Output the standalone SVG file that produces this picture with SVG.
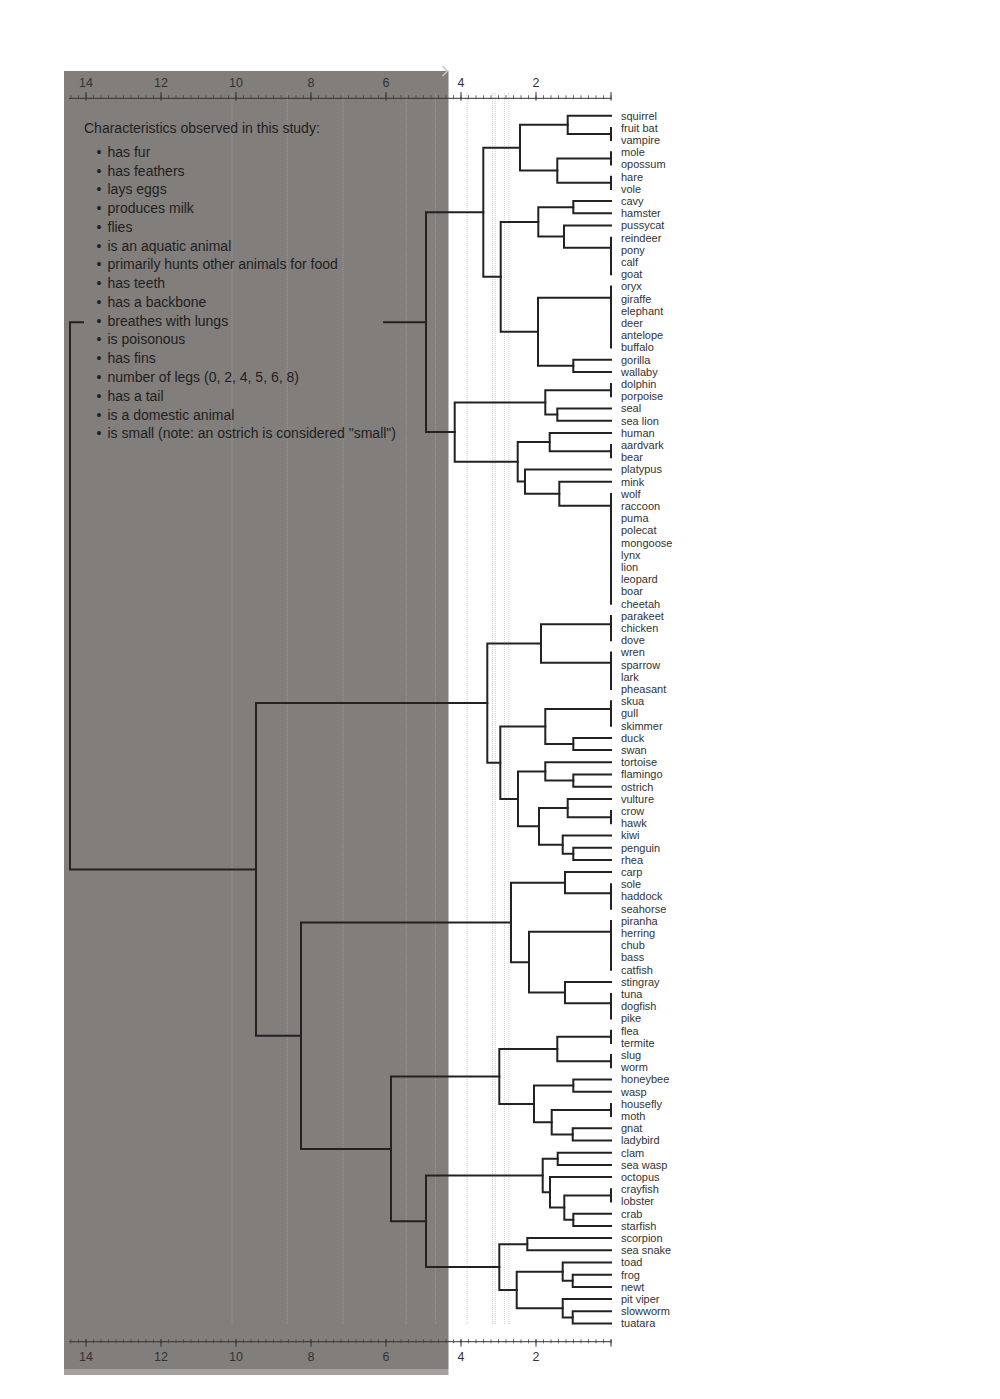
<svg xmlns="http://www.w3.org/2000/svg" width="1000" height="1399" viewBox="0 0 1000 1399">
<style>
.bg{fill:#ffffff}
.shade{fill:#827e7c}
.shade-edge{fill:#a3a09e}
.grid{stroke:#cdcdcd;stroke-width:1;stroke-dasharray:1 1;fill:none}
.grid-in{stroke:#9d9997;stroke-width:1;stroke-dasharray:1 1;fill:none}
.axis{stroke:#333333;stroke-width:1;fill:none}
.minor{stroke:#444444;stroke-width:4;stroke-dasharray:0.8 6.7;fill:none}
.axlab{font-family:"Liberation Sans",Arial,sans-serif;font-size:12.5px;fill:#333333;text-anchor:middle}
.edge{stroke:#222222;stroke-width:2;fill:none;stroke-linecap:square}
.leaf text{font-family:"Liberation Sans",Arial,sans-serif;font-size:11px;fill:#333333}
.legend{font-family:"Liberation Sans",Arial,sans-serif;font-size:14px;fill:#1e1e1e}
</style>
<rect class="bg" x="0" y="0" width="1000" height="1399"/>
<rect class="shade" x="64" y="71" width="384.5" height="1298"/>
<rect class="shade-edge" x="64" y="1369" width="384.5" height="6"/>
<polyline points="442.5,66 447.5,71 442.5,76" fill="none" stroke="#c8c8c8" stroke-width="1.5"/>

<g id="gridlines">
<path class="grid-in" d="M232 93V1325M287.3 93V1325M343 93V1325M406.2 93V1325M435.6 93V1325"/>
<path class="grid" d="M467 93V1325M492.6 93V1325M495.2 93V1325M504.4 93V1325M508.8 93V1325"/>
</g>

<g id="axis-top">
<line class="axis" x1="69" y1="98.3" x2="611.5" y2="98.3"/>
<line class="minor" x1="70.6" y1="97.3" x2="611.5" y2="97.3"/>
<path class="axis" d="M86 92V100.7M161 92V100.7M236 92V100.7M311 92V100.7M386 92V100.7M461 92V100.7M536 92V100.7M611 92V100.7"/>
<text class="axlab" x="86" y="87">14</text>
<text class="axlab" x="161" y="87">12</text>
<text class="axlab" x="236" y="87">10</text>
<text class="axlab" x="311" y="87">8</text>
<text class="axlab" x="386" y="87">6</text>
<text class="axlab" x="461" y="87">4</text>
<text class="axlab" x="536" y="87">2</text>
</g>

<g id="axis-bottom">
<line class="axis" x1="69" y1="1341.7" x2="611.5" y2="1341.7"/>
<line class="minor" x1="70.6" y1="1341.3" x2="611.5" y2="1341.3"/>
<path class="axis" d="M86 1339.3V1346.7M161 1339.3V1346.7M236 1339.3V1346.7M311 1339.3V1346.7M386 1339.3V1346.7M461 1339.3V1346.7M536 1339.3V1346.7M611 1339.3V1346.7"/>
<text class="axlab" x="86" y="1360.5">14</text>
<text class="axlab" x="161" y="1360.5">12</text>
<text class="axlab" x="236" y="1360.5">10</text>
<text class="axlab" x="311" y="1360.5">8</text>
<text class="axlab" x="386" y="1360.5">6</text>
<text class="axlab" x="461" y="1360.5">4</text>
<text class="axlab" x="536" y="1360.5">2</text>
</g>

<g id="connectors">
<path class="edge" d="M611 115.7H567.7V134H611"/>
<path class="edge" d="M611 127.9V140.1M611 152.3V164.5M611 176.7V188.9"/>
<path class="edge" d="M611 158.4H557.3V182.8H611"/>
<path class="edge" d="M567.7 124.85H520V170.6H557.3"/>
<path class="edge" d="M611 201.1H573.3V213.3H611"/>
<path class="edge" d="M611 237.7V274.3"/>
<path class="edge" d="M611 225.5H564V247.7H611"/>
<path class="edge" d="M573.3 207.2H538.3V236.6H564"/>
<path class="edge" d="M611 286.5V347.5"/>
<path class="edge" d="M611 359.7H573.3V371.9H611"/>
<path class="edge" d="M611 297.7H538V365.8H573.3"/>
<path class="edge" d="M538.3 221.9H500.7V331.75H538"/>
<path class="edge" d="M520 147.7H483.3V276.8H500.7"/>
<path class="edge" d="M611 384.1V396.3"/>
<path class="edge" d="M611 408.5H557.3V420.7H611"/>
<path class="edge" d="M611 390.2H545.3V414.6H557.3"/>
<path class="edge" d="M611 445.1V457.3"/>
<path class="edge" d="M611 432.9H549.7V451.2H611"/>
<path class="edge" d="M611 493.9V603.7"/>
<path class="edge" d="M611 481.7H559.3V505.7H611"/>
<path class="edge" d="M611 469.5H525V493.7H559.3"/>
<path class="edge" d="M549.7 442.05H517.7V481.6H525"/>
<path class="edge" d="M545.3 402.4H454.7V461.8H517.7"/>
<path class="edge" d="M483.3 212.25H426V432.1H454.7"/>
<path class="edge" d="M611 615.9V640.3M611 652.5V689.1"/>
<path class="edge" d="M611 624.3H541V662.7H611"/>
<path class="edge" d="M611 701.3V725.7"/>
<path class="edge" d="M611 737.9H573.3V750.1H611"/>
<path class="edge" d="M611 709H545.3V744H573.3"/>
<path class="edge" d="M611 774.5H573.3V786.7H611"/>
<path class="edge" d="M611 762.3H545.3V780.6H573.3"/>
<path class="edge" d="M611 811.1V823.3"/>
<path class="edge" d="M611 798.9H567.7V817.2H611"/>
<path class="edge" d="M611 847.7H573.3V859.9H611"/>
<path class="edge" d="M611 835.5H562.7V853.8H573.3"/>
<path class="edge" d="M567.7 808.05H539V844.65H562.7"/>
<path class="edge" d="M545.3 771.45H518V826.35H539"/>
<path class="edge" d="M545.3 726.5H500.3V798.9H518"/>
<path class="edge" d="M541 643.5H487.3V762.7H500.3"/>
<path class="edge" d="M611 884.3V908.7"/>
<path class="edge" d="M611 872.1H565V893.3H611"/>
<path class="edge" d="M611 920.9V969.7M611 994.1V1018.5"/>
<path class="edge" d="M611 981.9H565V1003.3H611"/>
<path class="edge" d="M611 931.7H529V992.6H565"/>
<path class="edge" d="M565 882.7H511V962.15H529"/>
<path class="edge" d="M611 1030.7V1042.9M611 1055.1V1067.3"/>
<path class="edge" d="M611 1036.8H557.3V1061.2H611"/>
<path class="edge" d="M611 1079.5H573.3V1091.7H611"/>
<path class="edge" d="M611 1103.9V1116.1"/>
<path class="edge" d="M611 1128.3H572.7V1140.5H611"/>
<path class="edge" d="M611 1110H551.7V1134.4H572.7"/>
<path class="edge" d="M573.3 1085.6H534V1122.2H551.7"/>
<path class="edge" d="M557.3 1049H499.3V1103.9H534"/>
<path class="edge" d="M611 1152.7H557.7V1164.9H611"/>
<path class="edge" d="M611 1189.3V1201.5"/>
<path class="edge" d="M611 1213.7H573.3V1225.9H611"/>
<path class="edge" d="M611 1195.4H564.3V1219.8H573.3"/>
<path class="edge" d="M611 1177.1H550V1207.6H564.3"/>
<path class="edge" d="M557.7 1158.8H542.7V1192.35H550"/>
<path class="edge" d="M611 1238.1H527.3V1250.3H611"/>
<path class="edge" d="M611 1274.7H572.7V1286.9H611"/>
<path class="edge" d="M611 1262.5H562.7V1280.8H572.7"/>
<path class="edge" d="M611 1311.3H572.7V1323.5H611"/>
<path class="edge" d="M611 1299.1H562.7V1317.4H572.7"/>
<path class="edge" d="M562.7 1271.65H516.7V1308.25H562.7"/>
<path class="edge" d="M527.3 1244.2H499.3V1289.95H516.7"/>
<path class="edge" d="M542.7 1175.6H426V1267.1H499.3"/>
<path class="edge" d="M499.3 1076.45H391V1221.35H426"/>
<path class="edge" d="M511 922.4H301V1148.9H391"/>
<path class="edge" d="M487.3 703.1H256V1035.65H301"/>
<path class="edge" d="M426 322.2H384M83 322.2H70V869.4H256"/>
</g>

<g id="legend" class="legend">
<text x="84" y="133.3">Characteristics observed in this study:</text>
<text y="156.7"><tspan x="96.5">•</tspan><tspan x="107.5">has fur</tspan></text>
<text y="175.5"><tspan x="96.5">•</tspan><tspan x="107.5">has feathers</tspan></text>
<text y="194.2"><tspan x="96.5">•</tspan><tspan x="107.5">lays eggs</tspan></text>
<text y="213"><tspan x="96.5">•</tspan><tspan x="107.5">produces milk</tspan></text>
<text y="231.8"><tspan x="96.5">•</tspan><tspan x="107.5">flies</tspan></text>
<text y="250.6"><tspan x="96.5">•</tspan><tspan x="107.5">is an aquatic animal</tspan></text>
<text y="269.3"><tspan x="96.5">•</tspan><tspan x="107.5">primarily hunts other animals for food</tspan></text>
<text y="288.1"><tspan x="96.5">•</tspan><tspan x="107.5">has teeth</tspan></text>
<text y="306.9"><tspan x="96.5">•</tspan><tspan x="107.5">has a backbone</tspan></text>
<text y="325.6"><tspan x="96.5">•</tspan><tspan x="107.5">breathes with lungs</tspan></text>
<text y="344.4"><tspan x="96.5">•</tspan><tspan x="107.5">is poisonous</tspan></text>
<text y="363.2"><tspan x="96.5">•</tspan><tspan x="107.5">has fins</tspan></text>
<text y="382"><tspan x="96.5">•</tspan><tspan x="107.5">number of legs (0, 2, 4, 5, 6, 8)</tspan></text>
<text y="400.7"><tspan x="96.5">•</tspan><tspan x="107.5">has a tail</tspan></text>
<text y="419.5"><tspan x="96.5">•</tspan><tspan x="107.5">is a domestic animal</tspan></text>
<text y="438.3"><tspan x="96.5">•</tspan><tspan x="107.5">is small (note: an ostrich is considered "small")</tspan></text>
</g>

<g class="leaf">
<g id="leaf-squirrel"><text x="621" y="119.6">squirrel</text></g>
<g id="leaf-fruit-bat"><text x="621" y="131.8">fruit bat</text></g>
<g id="leaf-vampire"><text x="621" y="144">vampire</text></g>
<g id="leaf-mole"><text x="621" y="156.2">mole</text></g>
<g id="leaf-opossum"><text x="621" y="168.4">opossum</text></g>
<g id="leaf-hare"><text x="621" y="180.6">hare</text></g>
<g id="leaf-vole"><text x="621" y="192.8">vole</text></g>
<g id="leaf-cavy"><text x="621" y="205">cavy</text></g>
<g id="leaf-hamster"><text x="621" y="217.2">hamster</text></g>
<g id="leaf-pussycat"><text x="621" y="229.4">pussycat</text></g>
<g id="leaf-reindeer"><text x="621" y="241.6">reindeer</text></g>
<g id="leaf-pony"><text x="621" y="253.8">pony</text></g>
<g id="leaf-calf"><text x="621" y="266">calf</text></g>
<g id="leaf-goat"><text x="621" y="278.2">goat</text></g>
<g id="leaf-oryx"><text x="621" y="290.4">oryx</text></g>
<g id="leaf-giraffe"><text x="621" y="302.6">giraffe</text></g>
<g id="leaf-elephant"><text x="621" y="314.8">elephant</text></g>
<g id="leaf-deer"><text x="621" y="327">deer</text></g>
<g id="leaf-antelope"><text x="621" y="339.2">antelope</text></g>
<g id="leaf-buffalo"><text x="621" y="351.4">buffalo</text></g>
<g id="leaf-gorilla"><text x="621" y="363.6">gorilla</text></g>
<g id="leaf-wallaby"><text x="621" y="375.8">wallaby</text></g>
<g id="leaf-dolphin"><text x="621" y="388">dolphin</text></g>
<g id="leaf-porpoise"><text x="621" y="400.2">porpoise</text></g>
<g id="leaf-seal"><text x="621" y="412.4">seal</text></g>
<g id="leaf-sea-lion"><text x="621" y="424.6">sea lion</text></g>
<g id="leaf-human"><text x="621" y="436.8">human</text></g>
<g id="leaf-aardvark"><text x="621" y="449">aardvark</text></g>
<g id="leaf-bear"><text x="621" y="461.2">bear</text></g>
<g id="leaf-platypus"><text x="621" y="473.4">platypus</text></g>
<g id="leaf-mink"><text x="621" y="485.6">mink</text></g>
<g id="leaf-wolf"><text x="621" y="497.8">wolf</text></g>
<g id="leaf-raccoon"><text x="621" y="510">raccoon</text></g>
<g id="leaf-puma"><text x="621" y="522.2">puma</text></g>
<g id="leaf-polecat"><text x="621" y="534.4">polecat</text></g>
<g id="leaf-mongoose"><text x="621" y="546.6">mongoose</text></g>
<g id="leaf-lynx"><text x="621" y="558.8">lynx</text></g>
<g id="leaf-lion"><text x="621" y="571">lion</text></g>
<g id="leaf-leopard"><text x="621" y="583.2">leopard</text></g>
<g id="leaf-boar"><text x="621" y="595.4">boar</text></g>
<g id="leaf-cheetah"><text x="621" y="607.6">cheetah</text></g>
<g id="leaf-parakeet"><text x="621" y="619.8">parakeet</text></g>
<g id="leaf-chicken"><text x="621" y="632">chicken</text></g>
<g id="leaf-dove"><text x="621" y="644.2">dove</text></g>
<g id="leaf-wren"><text x="621" y="656.4">wren</text></g>
<g id="leaf-sparrow"><text x="621" y="668.6">sparrow</text></g>
<g id="leaf-lark"><text x="621" y="680.8">lark</text></g>
<g id="leaf-pheasant"><text x="621" y="693">pheasant</text></g>
<g id="leaf-skua"><text x="621" y="705.2">skua</text></g>
<g id="leaf-gull"><text x="621" y="717.4">gull</text></g>
<g id="leaf-skimmer"><text x="621" y="729.6">skimmer</text></g>
<g id="leaf-duck"><text x="621" y="741.8">duck</text></g>
<g id="leaf-swan"><text x="621" y="754">swan</text></g>
<g id="leaf-tortoise"><text x="621" y="766.2">tortoise</text></g>
<g id="leaf-flamingo"><text x="621" y="778.4">flamingo</text></g>
<g id="leaf-ostrich"><text x="621" y="790.6">ostrich</text></g>
<g id="leaf-vulture"><text x="621" y="802.8">vulture</text></g>
<g id="leaf-crow"><text x="621" y="815">crow</text></g>
<g id="leaf-hawk"><text x="621" y="827.2">hawk</text></g>
<g id="leaf-kiwi"><text x="621" y="839.4">kiwi</text></g>
<g id="leaf-penguin"><text x="621" y="851.6">penguin</text></g>
<g id="leaf-rhea"><text x="621" y="863.8">rhea</text></g>
<g id="leaf-carp"><text x="621" y="876">carp</text></g>
<g id="leaf-sole"><text x="621" y="888.2">sole</text></g>
<g id="leaf-haddock"><text x="621" y="900.4">haddock</text></g>
<g id="leaf-seahorse"><text x="621" y="912.6">seahorse</text></g>
<g id="leaf-piranha"><text x="621" y="924.8">piranha</text></g>
<g id="leaf-herring"><text x="621" y="937">herring</text></g>
<g id="leaf-chub"><text x="621" y="949.2">chub</text></g>
<g id="leaf-bass"><text x="621" y="961.4">bass</text></g>
<g id="leaf-catfish"><text x="621" y="973.6">catfish</text></g>
<g id="leaf-stingray"><text x="621" y="985.8">stingray</text></g>
<g id="leaf-tuna"><text x="621" y="998">tuna</text></g>
<g id="leaf-dogfish"><text x="621" y="1010.2">dogfish</text></g>
<g id="leaf-pike"><text x="621" y="1022.4">pike</text></g>
<g id="leaf-flea"><text x="621" y="1034.6">flea</text></g>
<g id="leaf-termite"><text x="621" y="1046.8">termite</text></g>
<g id="leaf-slug"><text x="621" y="1059">slug</text></g>
<g id="leaf-worm"><text x="621" y="1071.2">worm</text></g>
<g id="leaf-honeybee"><text x="621" y="1083.4">honeybee</text></g>
<g id="leaf-wasp"><text x="621" y="1095.6">wasp</text></g>
<g id="leaf-housefly"><text x="621" y="1107.8">housefly</text></g>
<g id="leaf-moth"><text x="621" y="1120">moth</text></g>
<g id="leaf-gnat"><text x="621" y="1132.2">gnat</text></g>
<g id="leaf-ladybird"><text x="621" y="1144.4">ladybird</text></g>
<g id="leaf-clam"><text x="621" y="1156.6">clam</text></g>
<g id="leaf-sea-wasp"><text x="621" y="1168.8">sea wasp</text></g>
<g id="leaf-octopus"><text x="621" y="1181">octopus</text></g>
<g id="leaf-crayfish"><text x="621" y="1193.2">crayfish</text></g>
<g id="leaf-lobster"><text x="621" y="1205.4">lobster</text></g>
<g id="leaf-crab"><text x="621" y="1217.6">crab</text></g>
<g id="leaf-starfish"><text x="621" y="1229.8">starfish</text></g>
<g id="leaf-scorpion"><text x="621" y="1242">scorpion</text></g>
<g id="leaf-sea-snake"><text x="621" y="1254.2">sea snake</text></g>
<g id="leaf-toad"><text x="621" y="1266.4">toad</text></g>
<g id="leaf-frog"><text x="621" y="1278.6">frog</text></g>
<g id="leaf-newt"><text x="621" y="1290.8">newt</text></g>
<g id="leaf-pit-viper"><text x="621" y="1303">pit viper</text></g>
<g id="leaf-slowworm"><text x="621" y="1315.2">slowworm</text></g>
<g id="leaf-tuatara"><text x="621" y="1327.4">tuatara</text></g>
</g>
</svg>
